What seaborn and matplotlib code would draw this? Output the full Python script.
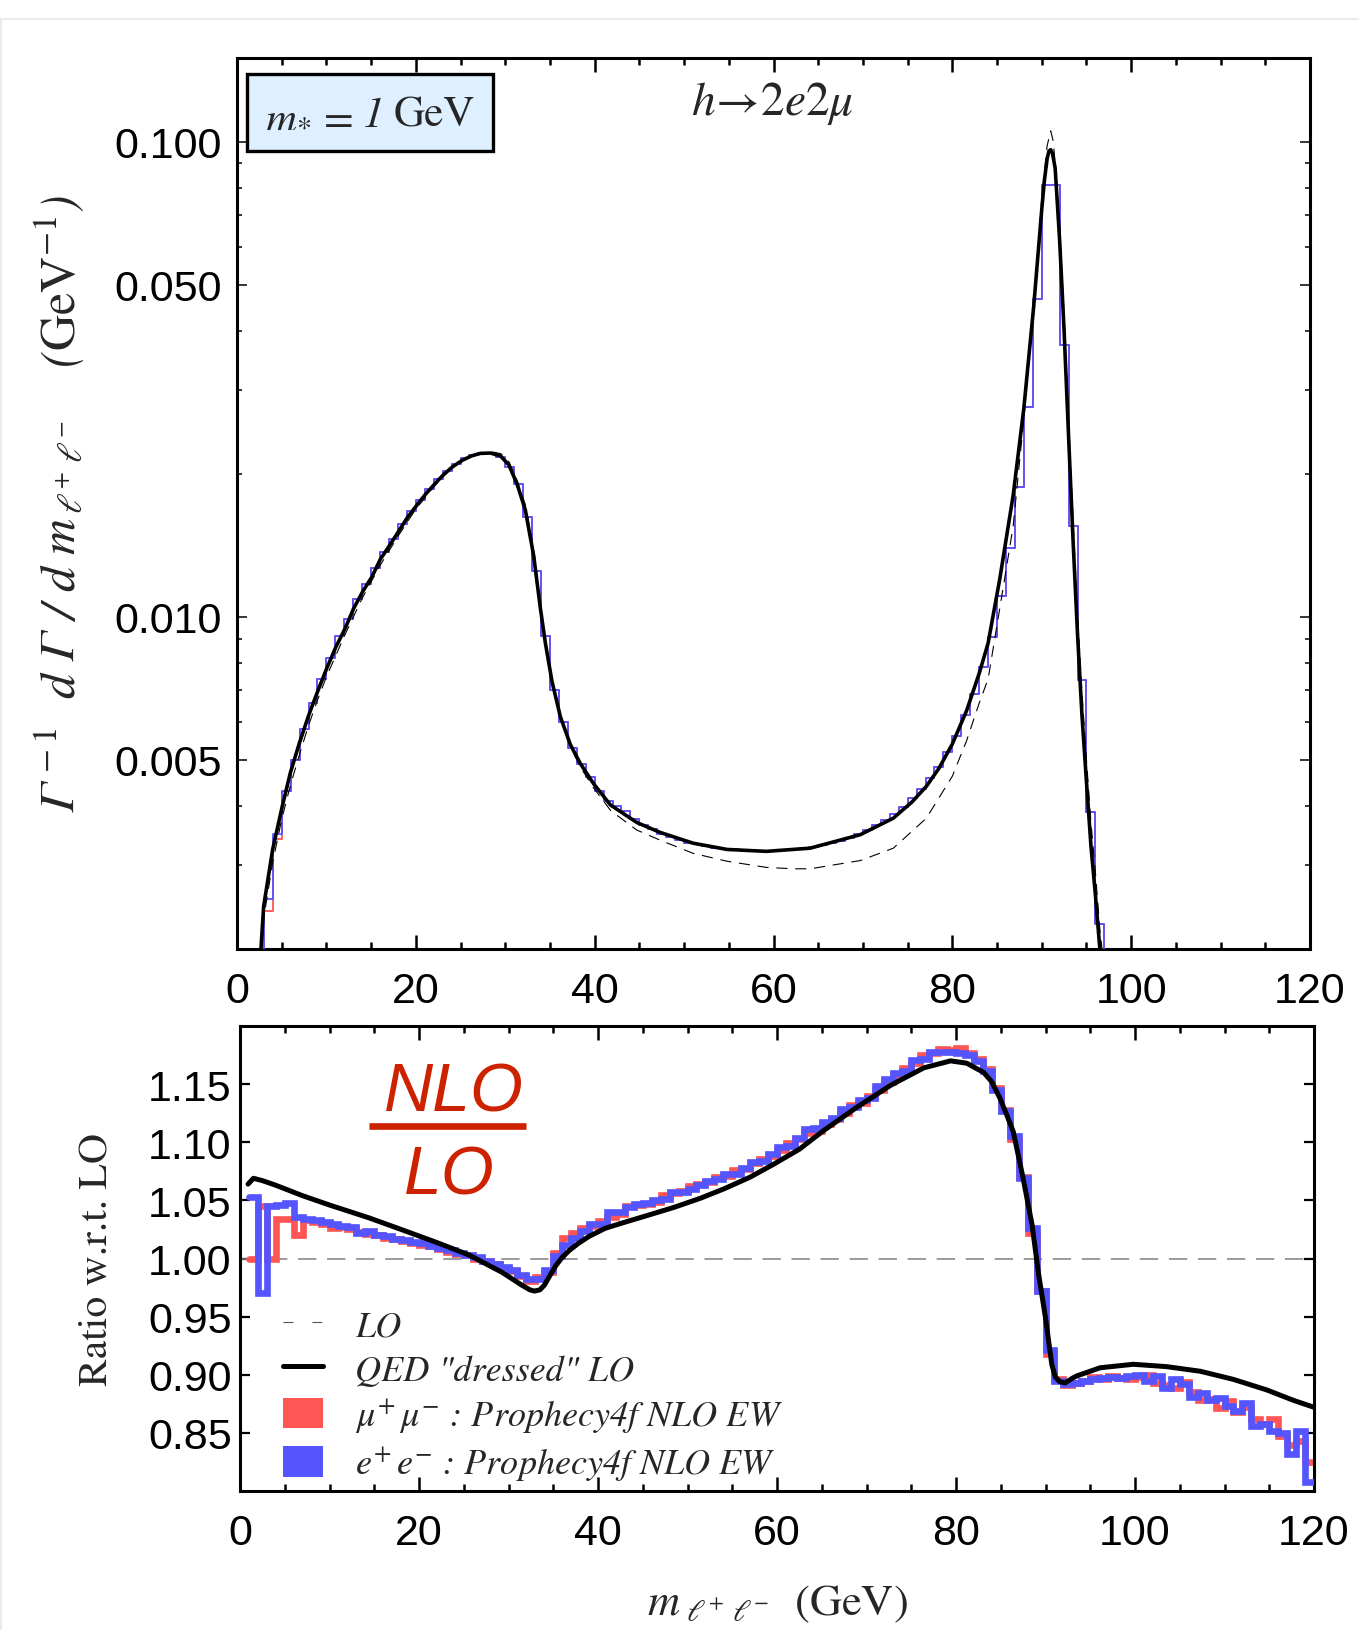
import matplotlib
matplotlib.use("Agg")
import matplotlib.pyplot as plt
import seaborn as sns
import numpy as np
import pandas as pd
from matplotlib.lines import Line2D
from matplotlib.patches import Patch, Rectangle
from matplotlib.ticker import NullFormatter

# ---------------- data ----------------
# Top panel: QED "dressed" LO (solid) distribution
dressed_x = [2.4, 2.98, 3.99, 5.03, 5.97, 6.97, 8.02, 9.06, 10.07, 11.07, 12.12, 13.05,
             14.09, 15.10, 16.03, 17.08, 18.08, 19.09, 20.13, 21.07, 22.11, 23.12, 24.16,
             25.17, 26.21, 27.22, 28.34, 29.46, 30.39, 31.32, 32.25, 33.18, 33.93, 34.49,
             35.23, 36.17, 37.29, 38.40, 39.90, 41.76, 44.74, 47.3, 51.0, 54.8, 59.2, 64.1,
             69.7, 73.4, 75.5, 77.1, 78.5, 80.0, 81.6, 83.0, 84.0, 85.3, 86.8, 88.0, 89.1,
             90.0, 90.3, 90.6, 90.8, 91.0, 91.2, 91.5, 92.0, 92.5, 93.0, 93.5, 94.0, 94.5,
             95.0, 95.5, 96.0, 96.5, 97.0]
dressed_y = [0.00165, 0.00246, 0.00324, 0.00397, 0.00470, 0.00542, 0.00621, 0.00700, 0.00782,
             0.00865, 0.00948, 0.01042, 0.01133, 0.01215, 0.01322, 0.01415, 0.01514, 0.01622,
             0.01720, 0.01810, 0.01904, 0.01994, 0.02073, 0.02134, 0.02181, 0.02208, 0.02212,
             0.02181, 0.02090, 0.01904, 0.01677, 0.01344, 0.01042, 0.00880, 0.00731, 0.00616,
             0.00538, 0.00491, 0.00445, 0.00402, 0.00369, 0.00352, 0.00334, 0.00324, 0.00321,
             0.00326, 0.00348, 0.00377, 0.00408, 0.00440, 0.00480, 0.00540, 0.00635, 0.00760,
             0.00880, 0.01200, 0.01800, 0.02750, 0.04500, 0.07200, 0.08300, 0.09200, 0.09550,
             0.09620, 0.09450, 0.08800, 0.06200, 0.04000, 0.02400, 0.01450, 0.00920, 0.00620,
             0.00450, 0.00330, 0.00260, 0.00200, 0.00160]

# Top panel: LO distribution (dashed)
lo_x = [2.4, 3.0, 4.0, 5.0, 6.0, 7.0, 8.0, 9.0, 10.0, 12.0, 14.0, 16.0, 18.0, 20.0, 22.0,
        24.0, 26.0, 27.5, 28.5, 29.5, 30.4, 31.3, 32.25, 33.2, 33.9, 34.5, 35.2, 36.2,
        37.3, 38.4, 39.9, 41.8, 44.7, 47.3, 51.0, 54.8, 59.2, 62.2, 64.1, 69.7, 73.4,
        77.1, 80.0, 81.6, 83.0, 84.0, 85.3, 86.8, 88.0, 89.1, 90.0, 90.6, 91.0, 91.3,
        91.7, 92.0, 92.5, 93.0, 93.5, 94.0, 94.5, 95.0, 95.5, 96.0, 96.5, 97.0]
lo_y = [0.00155, 0.00233, 0.00305, 0.00375, 0.00444, 0.00514, 0.00591, 0.00668, 0.00748,
        0.00911, 0.01094, 0.01283, 0.01477, 0.01686, 0.01878, 0.02057, 0.02177, 0.02215,
        0.02225, 0.02205, 0.02122, 0.01943, 0.01720, 0.01383, 0.01063, 0.00892, 0.00734,
        0.00612, 0.00532, 0.00483, 0.00436, 0.00391, 0.00356, 0.00339, 0.00318, 0.00306,
        0.00297, 0.00295, 0.00295, 0.00307, 0.00326, 0.00377, 0.00462, 0.00549, 0.00658,
        0.00740, 0.01040, 0.01550, 0.02620, 0.04550, 0.07580, 0.09800, 0.10540, 0.10000,
        0.08000, 0.06600, 0.04300, 0.02600, 0.01600, 0.01020, 0.00690, 0.00500, 0.00370,
        0.00290, 0.00220, 0.00180]

# Top panel: Prophecy4f NLO EW histograms, 1 GeV bins starting at 2 GeV
top_bin_start = 2
top_hist_e = [0.0018, 0.00255, 0.0035, 0.0043, 0.0050, 0.0058, 0.0066, 0.0074, 0.0082, 0.0091,
              0.0099, 0.0109, 0.0117, 0.0127, 0.0137, 0.0146, 0.0157, 0.0167, 0.0176, 0.0186,
              0.0195, 0.0203, 0.0210, 0.0216, 0.0219, 0.0221, 0.0221, 0.0217, 0.0207, 0.0190,
              0.0162, 0.0125, 0.0091, 0.0070, 0.0060, 0.0053, 0.0049, 0.0046, 0.0043, 0.0041,
              0.0040, 0.0039, 0.00375, 0.00365, 0.00357, 0.00350, 0.00344, 0.00339, 0.00335,
              0.00332, 0.00329, 0.00327, 0.00325, 0.00324, 0.00323, 0.00322, 0.00322, 0.00322,
              0.00322, 0.00323, 0.00324, 0.00326, 0.00328, 0.00331, 0.00334, 0.00338, 0.00343,
              0.00349, 0.00356, 0.00364, 0.00373, 0.00384, 0.00398, 0.00416, 0.00435, 0.00458,
              0.00483, 0.00519, 0.00561, 0.00621, 0.00689, 0.00786, 0.00908, 0.01106, 0.01393,
              0.0188, 0.0277, 0.0467, 0.0811, 0.0811, 0.0374, 0.01556, 0.00736, 0.00389,
              0.00226, 0.0014]
top_hist_mu = [0.0017, 0.00240, 0.0034, 0.0043, 0.0050, 0.0058, 0.0066, 0.0074, 0.0082, 0.0091,
               0.0099, 0.0109, 0.0117, 0.0127, 0.0137, 0.0146, 0.0157, 0.0167, 0.0176, 0.0186,
               0.0195, 0.0203, 0.0210, 0.0216, 0.0219, 0.0221, 0.0221, 0.0217, 0.0207, 0.0190,
               0.0162, 0.0125, 0.0091, 0.0070, 0.0060, 0.0053, 0.0049, 0.0046, 0.0043, 0.0041,
               0.0040, 0.0039, 0.00375, 0.00365, 0.00357, 0.00350, 0.00344, 0.00339, 0.00335,
               0.00332, 0.00329, 0.00327, 0.00325, 0.00324, 0.00323, 0.00322, 0.00322, 0.00322,
               0.00322, 0.00323, 0.00324, 0.00326, 0.00328, 0.00331, 0.00334, 0.00338, 0.00343,
               0.00349, 0.00356, 0.00364, 0.00373, 0.00384, 0.00398, 0.00416, 0.00435, 0.00458,
               0.00483, 0.00519, 0.00561, 0.00621, 0.00689, 0.00786, 0.00908, 0.01106, 0.01393,
               0.0188, 0.0277, 0.0467, 0.0811, 0.0811, 0.0374, 0.01556, 0.00736, 0.00389,
               0.00226, 0.0014]

# Bottom panel: ratio of QED "dressed" LO to LO
ratio_x = [0.9, 1.5, 2.5, 4.0, 7.0, 10.0, 14.4, 18.0, 21.9, 25.6, 29.3, 31.5, 32.4, 32.9,
           33.5, 34.0, 34.6, 35.3, 36.0, 36.8, 37.8, 39.0, 40.8, 42.9, 45.5, 48.5, 51.5,
           54.1, 57.0, 59.6, 62.5, 65.2, 68.9, 72.7, 76.4, 79.4, 81.2, 83.1, 84.0, 84.9,
           85.7, 86.4, 87.5, 88.5, 89.2, 90.0, 90.7, 91.1, 91.6, 92.2, 93.0, 93.5, 96.1,
           99.8, 103.5, 107.3, 111.0, 114.7, 117.7, 120.0]
ratio_y = [1.064, 1.069, 1.067, 1.063, 1.054, 1.046, 1.035, 1.025, 1.014, 1.003, 0.988,
           0.977, 0.973, 0.972, 0.973, 0.977, 0.985, 0.994, 1.001, 1.007, 1.013, 1.019,
           1.026, 1.031, 1.037, 1.044, 1.052, 1.060, 1.070, 1.081, 1.094, 1.110, 1.130,
           1.149, 1.164, 1.170, 1.168, 1.160, 1.152, 1.138, 1.123, 1.109, 1.069, 1.029,
           0.988, 0.949, 0.909, 0.898, 0.894, 0.893, 0.897, 0.899, 0.906, 0.909, 0.907,
           0.903, 0.896, 0.887, 0.878, 0.872]

# Bottom panel: Prophecy4f NLO EW / LO, 1 GeV bins starting at 1 GeV
ratio_bin_start = 1
ratio_e = [1.053, 0.970, 1.045, 1.046, 1.048, 1.036, 1.034, 1.033, 1.031, 1.030,
           1.028, 1.027, 1.022, 1.024, 1.020, 1.019, 1.017, 1.016, 1.014, 1.013,
           1.011, 1.009, 1.007, 1.005, 1.003, 1.001, 0.998, 0.995, 0.993, 0.990,
           0.986, 0.982, 0.982, 0.990, 1.002, 1.012, 1.018, 1.024, 1.030, 1.030,
           1.040, 1.040, 1.044, 1.047, 1.048, 1.050, 1.051, 1.057, 1.057, 1.060,
           1.063, 1.067, 1.068, 1.073, 1.073, 1.078, 1.083, 1.084, 1.090, 1.096,
           1.097, 1.104, 1.111, 1.112, 1.117, 1.121, 1.129, 1.130, 1.136, 1.138,
           1.148, 1.154, 1.160, 1.161, 1.171, 1.172, 1.178, 1.178, 1.178, 1.177,
           1.175, 1.170, 1.161, 1.145, 1.127, 1.105, 1.069, 1.026, 0.972, 0.921,
           0.895, 0.892, 0.893, 0.895, 0.896, 0.897, 0.898, 0.897, 0.899, 0.900,
           0.895, 0.899, 0.889, 0.896, 0.892, 0.881, 0.884, 0.878, 0.880, 0.873,
           0.869, 0.876, 0.856, 0.858, 0.852, 0.850, 0.832, 0.852, 0.808]
ratio_mu = [1.000, 1.045, 1.000, 1.034, 1.034, 1.020, 1.033, 1.031, 1.030, 1.026,
            1.027, 1.025, 1.023, 1.021, 1.020, 1.018, 1.017, 1.015, 1.013, 1.012,
            1.011, 1.008, 1.006, 1.004, 1.003, 1.000, 0.998, 0.995, 0.992, 0.989,
            0.985, 0.981, 0.984, 0.988, 1.005, 1.018, 1.022, 1.026, 1.028, 1.032,
            1.036, 1.038, 1.045, 1.046, 1.047, 1.049, 1.055, 1.056, 1.058, 1.062,
            1.064, 1.066, 1.070, 1.071, 1.076, 1.077, 1.082, 1.086, 1.088, 1.093,
            1.099, 1.103, 1.108, 1.110, 1.116, 1.120, 1.125, 1.132, 1.134, 1.140,
            1.145, 1.152, 1.158, 1.164, 1.168, 1.175, 1.177, 1.180, 1.179, 1.181,
            1.177, 1.172, 1.163, 1.147, 1.128, 1.103, 1.070, 1.022, 0.972, 0.918,
            0.896, 0.891, 0.893, 0.895, 0.898, 0.896, 0.899, 0.897, 0.896, 0.898,
            0.900, 0.893, 0.891, 0.889, 0.894, 0.885, 0.878, 0.879, 0.871, 0.877,
            0.868, 0.872, 0.862, 0.858, 0.862, 0.847, 0.840, 0.843, 0.825]

x_ticks = [0, 20, 40, 60, 80, 100, 120]
top_yticks = [0.005, 0.010, 0.050, 0.100]
top_yticklabels = ["0.005", "0.010", "0.050", "0.100"]
bot_yticks = [0.85, 0.90, 0.95, 1.00, 1.05, 1.10, 1.15]
bot_yticklabels = ["0.85", "0.90", "0.95", "1.00", "1.05", "1.10", "1.15"]

# ---------------- style ----------------
sns.set_theme(style="ticks")
plt.rcParams["font.family"] = ["Liberation Sans", "DejaVu Sans"]
plt.rcParams["mathtext.fontset"] = "stix"
plt.rcParams["axes.linewidth"] = 2.2
plt.rcParams["axes.edgecolor"] = "black"

RED = "#ff5555"
BLUE = "#5555ff"
NLO_RED = "#cc2200"
SERIF = ["STIXGeneral", "DejaVu Serif"]

W, H = 1359, 1631
fig = plt.figure(figsize=(W / 100, H / 100), dpi=100)
fig.patch.set_facecolor("white")

ax1 = fig.add_axes([237 / W, 1 - 950 / H, 1073 / W, 891 / H])
ax2 = fig.add_axes([240 / W, 1 - 1492 / H, 1074 / W, 465 / H])


def step_frame(start, values):
    edges = np.arange(start, start + len(values) + 1, dtype=float)
    vals = list(values) + [values[-1]]
    return pd.DataFrame({"x": edges, "y": vals})


# ---------------- top panel ----------------
ax1.set_yscale("log")
sns.lineplot(data=step_frame(top_bin_start, top_hist_mu), x="x", y="y", ax=ax1,
             drawstyle="steps-post", color=RED, lw=1.3, sort=False, estimator=None, zorder=2)
sns.lineplot(data=step_frame(top_bin_start, top_hist_e), x="x", y="y", ax=ax1,
             drawstyle="steps-post", color=BLUE, lw=1.3, sort=False, estimator=None, zorder=3)
sns.lineplot(x=lo_x, y=lo_y, ax=ax1, color="black", lw=0.8,
             sort=False, estimator=None, zorder=4)
ax1.lines[-1].set_dashes((10, 7))
sns.lineplot(x=dressed_x, y=dressed_y, ax=ax1, color="black", lw=2.6,
             sort=False, estimator=None, zorder=5)

ax1.set_xlim(0, 120)
ax1.set_ylim(0.002, 0.15)
ax1.set_xticks(x_ticks)
ax1.set_xticks(np.arange(0, 121, 5), minor=True)
ax1.set_yticks(top_yticks)
ax1.set_yticklabels(top_yticklabels)
ax1.set_yticks([0.002, 0.003, 0.004, 0.006, 0.007, 0.008, 0.009, 0.02, 0.03, 0.04,
                0.06, 0.07, 0.08, 0.09], minor=True)
ax1.yaxis.set_minor_formatter(NullFormatter())
ax1.tick_params(axis="x", which="both", direction="in", top=True, bottom=True,
                width=1.8, labelsize=31, pad=16, colors="black")
ax1.tick_params(axis="x", which="major", length=10)
ax1.tick_params(axis="x", which="minor", length=5)
ax1.tick_params(axis="y", which="both", direction="in", left=True, right=True,
                width=1.1, labelsize=31, pad=11, colors="black")
ax1.tick_params(axis="y", which="major", length=7.5)
ax1.tick_params(axis="y", which="minor", length=3.5)
ax1.set_xlabel("")
ax1.set_ylabel("\u0393$^{\\,-1}$  d \u0393 / d m$_{\\,\\ell^{+}\\ \\ell^{-}}$    ($\\mathrm{GeV}^{-1}$)",
               fontsize=36, fontfamily=SERIF, fontstyle="italic", rotation=90,
               ha="center", va="center", rotation_mode="default")
ax1.yaxis.set_label_coords(-0.166, 0.5)

# m_* box
ax1.add_patch(Rectangle((0.0093, 0.8956), 0.2293, 0.0864, transform=ax1.transAxes,
                        facecolor="#deefff", edgecolor="black", lw=2.4, zorder=6))
ax1.text(0.1085, 0.9237, r"$m_{*}$ =", transform=ax1.transAxes, ha="right",
         va="baseline", fontsize=31, fontfamily=SERIF, zorder=7)
ax1.text(0.1275, 0.9237, "1", transform=ax1.transAxes, ha="center",
         va="baseline", fontsize=31, fontfamily=SERIF, fontstyle="italic", zorder=7)
ax1.text(0.1460, 0.9237, "GeV", transform=ax1.transAxes, ha="left",
         va="baseline", fontsize=31, fontfamily=SERIF, zorder=7)
ax1.text(0.4986, 0.9495, r"$h\!\rightarrow\!2e2\mu$", transform=ax1.transAxes,
         ha="center", va="center", fontsize=34, fontfamily=SERIF)

# ---------------- bottom panel ----------------
ax2.axhline(1.0, color="#808080", lw=1.1, dashes=(12, 7), zorder=1)
sns.lineplot(data=step_frame(ratio_bin_start, ratio_mu), x="x", y="y", ax=ax2,
             drawstyle="steps-post", color=RED, lw=4.8, sort=False, estimator=None,
             zorder=2, solid_joinstyle="miter")
sns.lineplot(data=step_frame(ratio_bin_start, ratio_e), x="x", y="y", ax=ax2,
             drawstyle="steps-post", color=BLUE, lw=4.8, sort=False, estimator=None,
             zorder=3, solid_joinstyle="miter")
sns.lineplot(x=ratio_x, y=ratio_y, ax=ax2, color="black", lw=3.6, sort=False,
             estimator=None, zorder=5)

ax2.set_xlim(0, 120)
ax2.set_ylim(0.80, 1.20)
ax2.set_xticks(x_ticks)
ax2.set_xticks(np.arange(0, 121, 5), minor=True)
ax2.set_yticks(bot_yticks)
ax2.set_yticklabels(bot_yticklabels)
ax2.tick_params(axis="x", which="both", direction="in", top=True, bottom=True,
                width=1.8, labelsize=31, pad=16, colors="black")
ax2.tick_params(axis="x", which="major", length=10)
ax2.tick_params(axis="x", which="minor", length=5)
ax2.tick_params(axis="y", which="major", direction="in", left=True, right=True,
                width=1.6, length=7, labelsize=31, pad=6, colors="black")
ax2.set_xlabel(r"$m_{\ \ell^{+}\ \ell^{-}}$  (GeV)", fontsize=32, fontfamily=SERIF,
               va="center")
ax2.xaxis.set_label_coords(0.5, -0.241)
ax2.set_ylabel("Ratio w.r.t. LO", fontsize=30, fontfamily=SERIF, rotation=90,
               ha="center", va="center", rotation_mode="default")
ax2.yaxis.set_label_coords(-0.133, 0.5)

# NLO / LO annotation
ax2.text(0.199, 0.818, "NLO", transform=ax2.transAxes, ha="center", va="baseline",
         fontsize=49, fontstyle="italic", color=NLO_RED)
ax2.add_line(Line2D([0.120, 0.266], [0.786, 0.786], transform=ax2.transAxes,
                    color=NLO_RED, lw=4.8, solid_capstyle="butt"))
ax2.text(0.195, 0.639, "LO", transform=ax2.transAxes, ha="center", va="baseline",
         fontsize=49, fontstyle="italic", color=NLO_RED)

# legend
handles = [
    Line2D([], [], color="#555555", lw=0.8, dashes=(9, 17)),
    Line2D([], [], color="black", lw=3.6),
    Patch(facecolor=RED, edgecolor="none"),
    Patch(facecolor=BLUE, edgecolor="none"),
]
labels = ["LO", 'QED "dressed" LO',
          r"$\mu^{+}\,\mu^{-}$ : Prophecy4f NLO EW",
          r"$e^{+}\,e^{-}$ : Prophecy4f NLO EW"]
ax2.legend(handles, labels, loc="upper left", bbox_to_anchor=(0.040, 0.393),
           frameon=False, borderpad=0, borderaxespad=0, handlelength=1.1,
           handleheight=0.92, handletextpad=0.9, labelspacing=0.26,
           prop={"family": SERIF, "style": "italic", "size": 26})

for ax in (ax1, ax2):
    for s in ax.spines.values():
        s.set_linewidth(2.2)
        s.set_color("black")

# faint frame of the original screenshot
fig.add_artist(Line2D([0, 1], [1 - 20 / H, 1 - 20 / H], transform=fig.transFigure,
                      color="#ebebeb", lw=1.5))
fig.add_artist(Line2D([1 / W, 1 / W], [0, 1 - 20 / H], transform=fig.transFigure,
                      color="#ebebeb", lw=1.5))

fig.savefig("out.png", dpi=100, facecolor="white")
